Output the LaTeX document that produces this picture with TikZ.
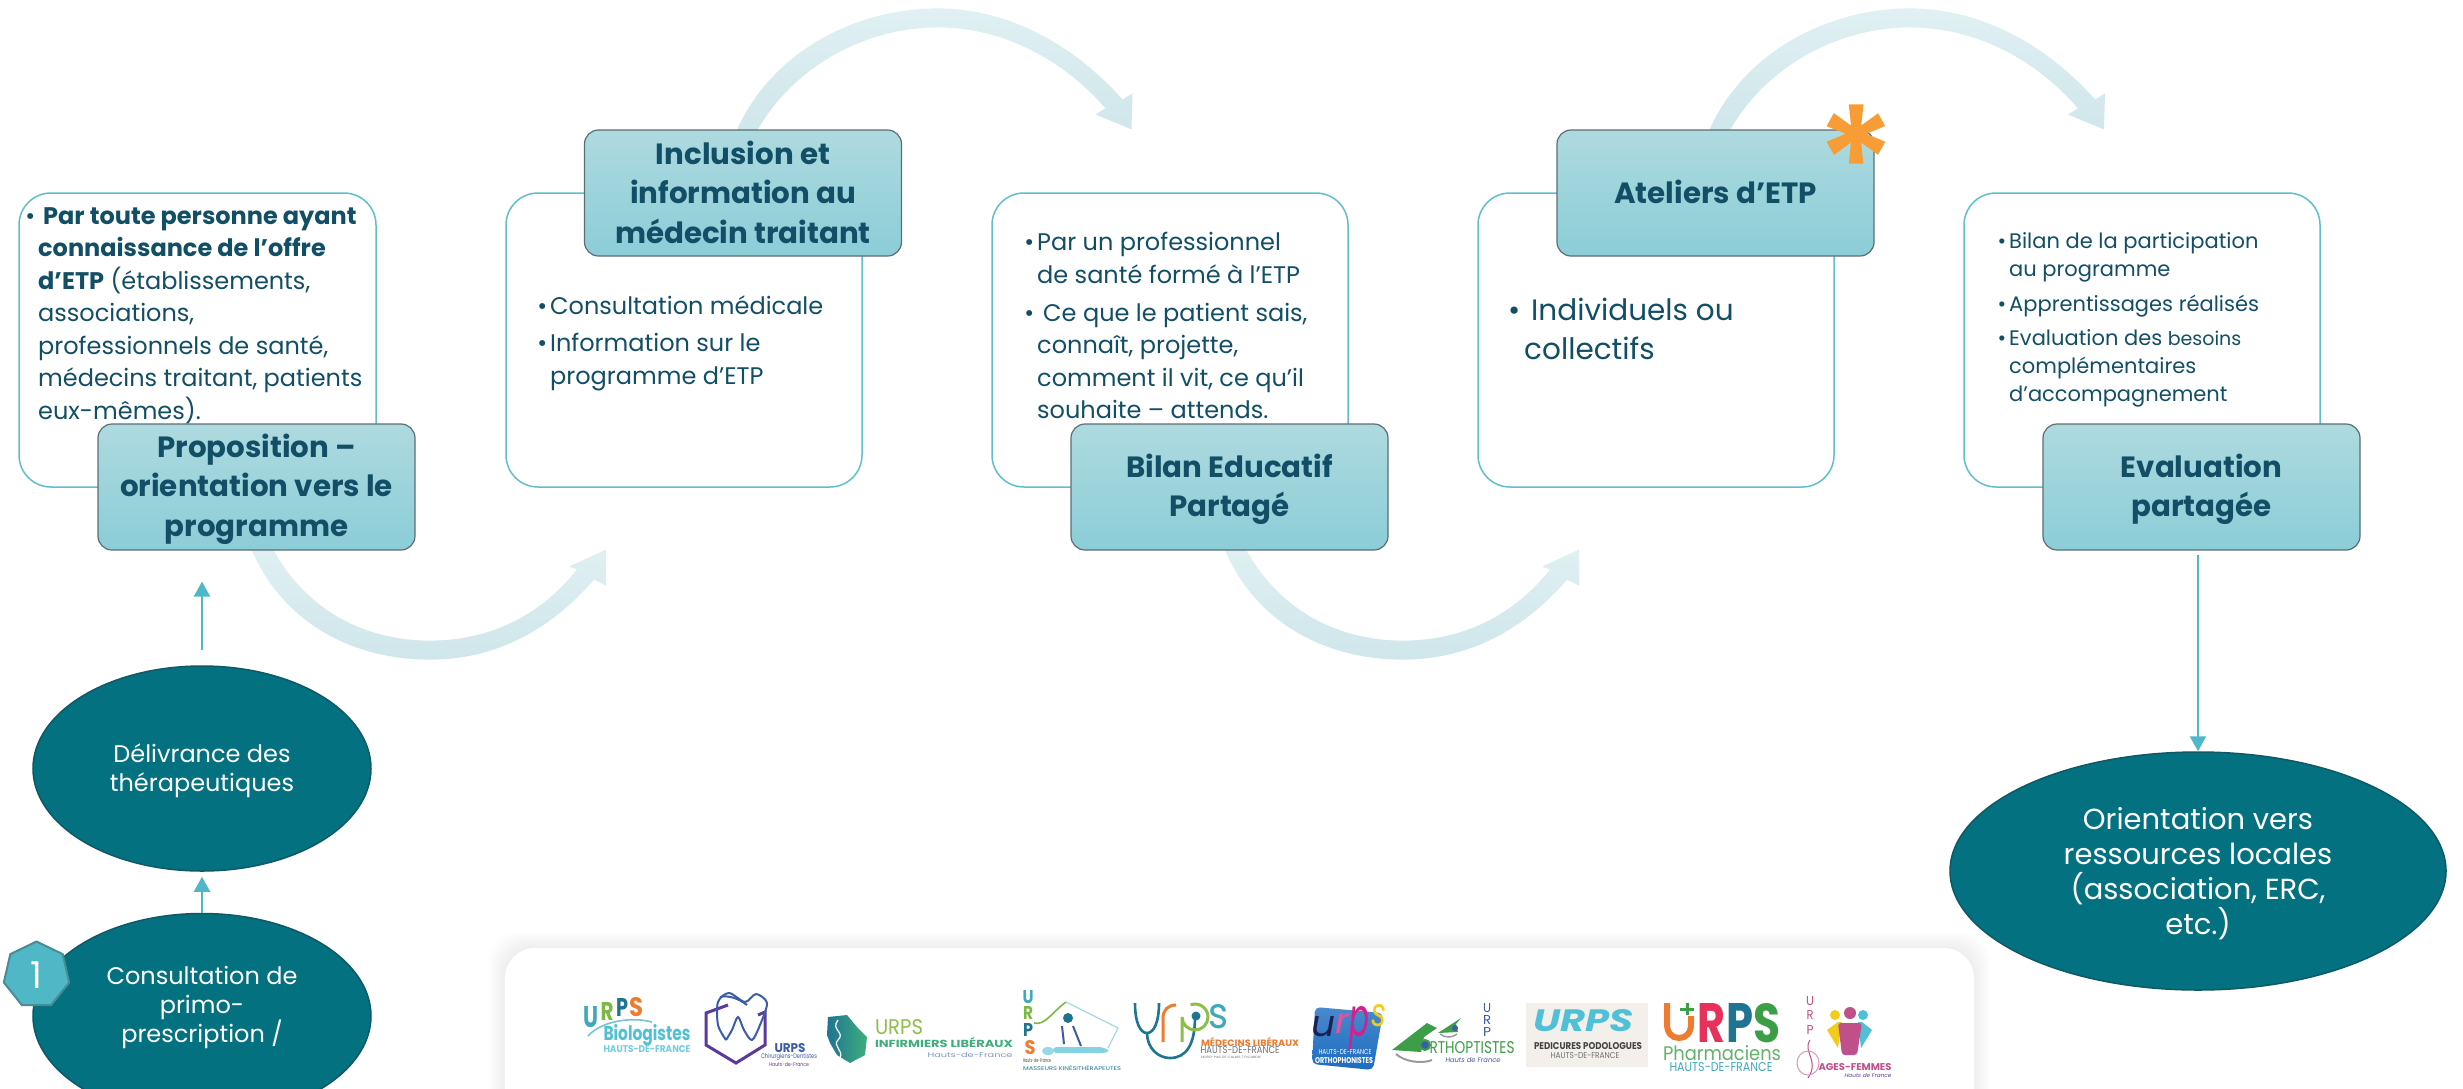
\documentclass[tikz,border=0pt]{standalone}
\usepackage{fontspec}
\usepackage{graphicx}
\setmainfont{Poppins}
\setsansfont{Poppins}
\usetikzlibrary{shapes.geometric,arrows.meta,backgrounds,calc}
\definecolor{txt}{HTML}{124F66}
\definecolor{hdtop}{HTML}{AEDADF}
\definecolor{hdbot}{HTML}{8BCDD8}
\definecolor{hdline}{HTML}{5A6E75}
\definecolor{boxline}{HTML}{5FBFCC}
\definecolor{ellfill}{HTML}{03717F}
\definecolor{ellline}{HTML}{0F5966}
\definecolor{conn}{HTML}{4FB8C8}
\definecolor{paletop}{HTML}{E0F0F3}
\definecolor{palebot}{HTML}{CFE6EA}
\definecolor{starcol}{HTML}{F89C36}
\definecolor{HexLine}{HTML}{4A8C96}
\definecolor{HexFill}{HTML}{4FB7C5}
\definecolor{lgTeal}{HTML}{3FA9BC}
\definecolor{lgGreen}{HTML}{7DB843}
\definecolor{lgBlue}{HTML}{1F7492}
\definecolor{lgOrange}{HTML}{EE7B30}
\definecolor{lgCyan}{HTML}{4FC0D6}
\definecolor{lgPurple}{HTML}{5B3A9B}
\definecolor{lgNavy}{HTML}{3B5CA8}
\definecolor{lgMint}{HTML}{3FAE7C}
\definecolor{lgLime}{HTML}{8FBE4A}
\definecolor{lgSlate}{HTML}{7F97C0}
\definecolor{lgDark}{HTML}{444444}
\definecolor{lgGrey}{HTML}{707070}
\definecolor{lgRoyal}{HTML}{1C6CC0}
\definecolor{lgInk}{HTML}{1E1E50}
\definecolor{lgPink}{HTML}{EE4E9A}
\definecolor{lgMag}{HTML}{D81E8C}
\definecolor{lgYel}{HTML}{F2CC1A}
\definecolor{lgLeaf}{HTML}{3C9E46}
\definecolor{lgCream}{HTML}{F3F0EC}
\definecolor{lgRed}{HTML}{E8315A}
\definecolor{lgRose}{HTML}{C0508A}
\newcommand\bul[1]{\llap{•\hspace{#1pt}}}
\newcommand\lgt[6]{\node[inner sep=0pt,text=#5] (#1) at (#2) {\resizebox{#3pt}{#4pt}{#6}};}
\newcommand\tall[1]{\rule{0pt}{#1pt}}
\newcommand\deep[1]{\rule[-#1pt]{0pt}{1pt}}
\tikzset{
  x=1pt,y=-1pt,
  cardbox/.style={draw=boxline,line width=1.5pt,fill=white,rounded corners=32pt},
  header/.style={draw=hdline,line width=1.2pt,rounded corners=14pt,top color=hdtop,bottom color=hdbot,
    minimum width=317pt,minimum height=126pt,inner sep=0pt,align=center,text=txt,
    font=\fontsize{29.3}{39.5}\selectfont\bfseries},
  body/.style={anchor=north west,inner sep=0pt,align=left,text=txt,execute at begin node=\strut},
  bodyA/.style={body,font=\fontsize{24}{32.5}\selectfont},
  bodyB/.style={body,font=\fontsize{29.5}{38.5}\selectfont},
  bodyC/.style={body,font=\fontsize{21}{28}\selectfont},
  oval/.style={shape=ellipse,draw=ellline,line width=1.5pt,fill=ellfill,inner sep=0pt,align=center,text=white},
  link/.style={draw=conn,line width=2.3pt,-{Triangle[length=15pt,width=16pt]}},
  lowarc/.pic={\path[shade,top color=paletop,bottom color=palebot]
    (-6.5,-5) .. controls (23.5,70) and (93.5,109) .. (173.5,109) .. controls (238.5,109) and (293.5,80) .. (337.5,29)
    -- (349.5,35) -- (349.5,-1) -- (312.5,16) -- (320.5,19)
    .. controls (283.5,65) and (233.5,90) .. (173.5,90) .. controls (108.5,90) and (48.5,60) .. (14.5,-5) -- cycle;},
  higharc/.pic={\path[shade,top color=paletop,bottom color=palebot]
    (-8,5) .. controls (25,-75) and (110,-121) .. (194.5,-121) .. controls (270,-121) and (335,-80) .. (379.5,-30)
    -- (389.5,-36) -- (388.5,0) -- (352.5,-15) -- (362.5,-21)
    .. controls (320,-70) and (260,-102) .. (194.5,-102) .. controls (125,-102) and (50,-65) .. (12,5) -- cycle;},
}
\begin{document}
\begin{tikzpicture}
\useasboundingbox (0,0) rectangle (2463,1088);
\clip (0,0) rectangle (2463,1088);
% cards
\draw[cardbox] (19,193) rectangle (376,487);
\draw[cardbox] (506,193) rectangle (862,487);
\draw[cardbox] (992,193) rectangle (1348,487);
\draw[cardbox] (1478,193) rectangle (1834,487);
\draw[cardbox] (1964,193) rectangle (2320,487);
% body text
\node[bodyA] (t1) at (38,207) {\bul{3}\hspace{5pt}\textbf{Par toute personne ayant}\\\textbf{connaissance de l’offre}\\\textbf{d’ETP} (établissements,\\associations,\\professionnels de santé,\\médecins traitant, patients\\eux-mêmes).};
\node[bodyA] (t2a) at (550,292) {\bul{3}Consultation médicale};
\node[bodyA] (t2b) at (550,333) {\bul{3}Information sur le\\programme d’ETP};
\node[bodyA] (t3a) at (1037,232) {\bul{3}Par un professionnel\\de santé formé à l’ETP};
\node[bodyA] (t3b) at (1037,303) {\bul{3}\hspace{6pt}Ce que le patient sais,\\connaît, projette,\\comment il vit, ce qu’il\\souhaite – attends.};
\node[bodyB] (t4) at (1524,298) {\bul{4}\hspace{7pt}Individuels ou\\collectifs};
\node[bodyC] (t5a) at (2009,232) {\bul{3}Bilan de la participation\\au programme};
\node[bodyC] (t5b) at (2009,292) {\bul{3}Apprentissages réalisés};
\node[bodyC] (t5c) at (2009,329) {\bul{3}Evaluation des {\fontsize{19}{28}\selectfont besoins}\\complémentaires\\d’accompagnement};
% headers
\node[header] (h1) at (256.5,487) {\tall{28}Proposition –\\orientation vers le\\programme};
\node[header] (h2) at (743,193) {Inclusion et\\information au\\médecin traitant\deep{2}};
\node[header] (h3) at (1229.5,487) {\tall{28}Bilan Educatif\\Partagé};
\node[header] (h4) at (1715.5,193) {Ateliers d’ETP\deep{2}};
\node[header] (h5) at (2201.5,487) {\tall{28}Evaluation\\partagée};
% ovals
\node[oval,minimum width=338pt,minimum height=205pt,font=\fontsize{24}{29}\selectfont] (e1) at (202,768.5) {\tall{24}Délivrance des\\thérapeutiques};
\node[oval,minimum width=338pt,minimum height=205pt,font=\fontsize{24}{29}\selectfont] (e2) at (202,1016) {Consultation de\\primo-\\prescription /\deep{24}};
\node[oval,minimum width=496pt,minimum height=238pt,font=\fontsize{29}{35}\selectfont] (e3) at (2198,871) {\tall{28}Orientation vers\\ressources locales\\(association, ERC,\\etc.)};
\node[regular polygon,regular polygon sides=7,minimum size=67pt,inner sep=0pt,draw=HexLine,line width=2pt,fill=HexFill,text=white,font=\fontsize{37}{37}\selectfont] (num) at (36.5,975) {1};
% connectors
\draw[link,shorten >=5pt] (e2.north) -- (e1.south);
\draw[link,shorten <=15pt,shorten >=31pt] (e1.north) -- (e1.north |- h1.south);
\draw[link,shorten <=4pt] (e3.north |- h5.south) -- (e3.north);
% star
\node[anchor=base,inner sep=0pt,text=starcol,font=\fontsize{150}{150}\selectfont\addfontfeature{FakeBold=2}] (star) at (1856,216) {*};
% big pale arrows
\begin{scope}[on background layer]
\fill[white] (0,0) rectangle (2463,1088);
\pic at (h1.south) {lowarc};
\pic at (h3.south) {lowarc};
\pic at (h2.north) {higharc};
\pic at (h4.north) {higharc};
\end{scope}
% logo panel
\foreach \i in {1,...,8} {\fill[black,opacity=.0075,rounded corners=30pt] ({505-\i*2},{948-\i*2}) rectangle ({1974+\i*2},1130);}
\fill[white,rounded corners=30pt] (505,948) rectangle (1974,1130);
% logo 1 biologistes
\draw[draw=lgTeal!70,line width=1.6pt] (588,1036) .. controls (600,1022) and (630,1016) .. (652,1022);
\lgt{a1}{591,1017}{15}{21}{lgTeal}{\bfseries U}
\lgt{a2}{607,1011}{13}{18}{lgGreen}{\bfseries R}
\lgt{a3}{622,1007}{12}{18}{lgBlue}{\bfseries P}
\lgt{a4}{636,1007}{14}{19}{lgOrange}{\bfseries S}
\lgt{a5}{647,1035}{87}{16}{lgCyan}{\bfseries Biologistes}
\lgt{a6}{647,1049}{87}{7}{lgCyan!80}{\bfseries HAUTS-DE-FRANCE}
% logo 2 dentists
\draw[draw=lgPurple,line width=3pt] (728,1005) -- (706,1013) -- (706,1045) -- (736,1063) -- (765,1045) -- (765,1012) -- (758,1015);
\draw[draw=lgNavy,line width=2pt] plot[smooth] coordinates {(726,1040) (718,1025) (718,1002) (729,993) (745,1002) (756,994) (767,1003) (760,1025) (752,1040) (744,1030) (738,1017) (732,1030) (726,1040)};
\draw[draw=lgNavy,line width=2pt] (720,997) .. controls (728,995) and (738,998) .. (747,1005);
\lgt{b1}{790,1048}{31}{9}{lgNavy}{\bfseries URPS}
\lgt{b2}{789,1057}{56}{5}{lgNavy}{Chirurgiens-Dentistes}
\lgt{b3}{789,1065}{40}{4}{lgPurple}{Hauts-de-France}
% logo 3 nurses
\path[shade,left color=lgBlue,right color=lgMint] (828,1017) -- (847,1015) -- (857,1027) -- (867,1037) -- (865,1055) -- (850,1063) -- (837,1055) -- (830,1043) -- (827,1035) -- cycle;
\draw[draw=white,line width=1.2pt] (838,1020) .. controls (830,1030) and (846,1032) .. (838,1040) .. controls (832,1046) and (844,1050) .. (840,1058);
\lgt{c1}{899,1027}{48}{15}{lgLime}{URPS}
\lgt{c2}{944,1043}{138}{10}{lgMint}{\bfseries INFIRMIERS LIBÉRAUX}
\lgt{c3}{970,1055}{85}{5}{lgSlate}{Hauts-de-France}
% logo 4 physio
\lgt{d1}{1028,997}{11}{13}{lgTeal}{\bfseries U}
\lgt{d2}{1028,1013}{10}{13}{lgGreen}{\bfseries R}
\lgt{d3}{1028,1030}{10}{13}{lgBlue}{\bfseries P}
\lgt{d4}{1030,1048}{11}{14}{lgOrange}{\bfseries S}
\draw[draw=lgGreen,line width=1.6pt] (1034,1023) .. controls (1045,1026) and (1052,1012) .. (1066,1002);
\draw[draw=lgTeal!45,line width=1.3pt] (1066,1002) -- (1118,1028) -- (1108,1048);
\fill[lgBlue] (1068,1018) circle (5);
\draw[draw=lgNavy,line width=2pt] (1062,1026) -- (1064,1044);
\draw[draw=lgNavy,line width=2pt] (1073,1026) -- (1081,1046);
\fill[lgCyan!70] (1056,1047) -- (1100,1047) .. controls (1110,1049) and (1112,1053) .. (1100,1053) -- (1056,1053) .. controls (1052,1051) and (1052,1049) .. (1056,1047) -- cycle;
\fill[lgCyan!60] (1048,1051) ellipse (6 and 4);
\lgt{d5}{1037,1061}{28}{4}{lgDark}{Hauts-de-France}
\lgt{d6}{1072,1068}{98}{5}{lgBlue}{MASSEURS KINÉSITHÉRAPEUTES}
% logo 5 doctors
\draw[draw=lgBlue,line width=2.6pt] (1135,1003) .. controls (1135,1022) and (1140,1033) .. (1147,1033) .. controls (1154,1033) and (1159,1022) .. (1159,1003);
\draw[draw=lgBlue,line width=2.6pt] (1147,1033) .. controls (1147,1048) and (1158,1058) .. (1170,1058) .. controls (1186,1058) and (1195,1045) .. (1195,1017);
\draw[draw=lgOrange,line width=3pt] (1163,1042) -- (1163,1018) .. controls (1163,1010) and (1168,1005) .. (1176,1005);
\draw[draw=lgLime,line width=3pt] (1182,1042) -- (1182,1017) arc[start angle=180,end angle=-110,radius=13];
\fill[lgBlue] (1196,1016) circle (4.5);
\lgt{f1}{1218,1017}{20}{24}{lgTeal}{s}
\lgt{f2}{1250,1042}{98}{9}{lgOrange}{\bfseries MÉDECINS LIBÉRAUX}
\lgt{f3}{1240,1050}{79}{7}{lgGrey}{HAUTS-DE-FRANCE}
\lgt{f4}{1231,1057}{60}{3}{lgGrey}{NORD-PAS DE CALAIS / PICARDIE}
% logo 6 speech
\path[shade,top color=lgRoyal!80,bottom color=lgRoyal,rounded corners=5pt] (1315,1007) -- (1383,1013) -- (1373,1070) -- (1312,1064) -- cycle;
\lgt{g1}{1323,1027}{24}{20}{lgInk}{\itshape u}
\lgt{g2}{1342,1023}{14}{20}{lgPink}{\itshape r}
\lgt{g3}{1359,1028}{20}{30}{lgMag}{\itshape p}
\lgt{g4}{1379,1016}{15}{22}{lgYel}{\itshape s}
\lgt{g5}{1345,1052}{53}{5}{white}{HAUTS-DE-FRANCE}
\lgt{g6}{1344,1061}{58}{6}{white}{\bfseries ORTHOPHONISTES}
% logo 7 orthoptists
\fill[lgLeaf] (1392,1050) -- (1427,1023) -- (1437,1028) -- (1424,1037) -- (1421,1052) -- cycle;
\draw[draw=lgGrey!70,line width=2pt] (1396,1054) .. controls (1405,1062) and (1422,1064) .. (1432,1060);
\draw[draw=lgLeaf,line width=2pt,fill=lgNavy] (1425,1045) circle (5);
\fill[lgLeaf] (1438,1033) -- (1461,1018) -- (1456,1024) -- (1458,1032) -- cycle;
\draw[draw=lgGrey!70,line width=1.5pt] (1440,1034) .. controls (1445,1038) and (1452,1038) .. (1457,1034);
\fill[lgNavy] (1455,1028) circle (3);
\lgt{k1}{1472,1048}{85}{12}{lgLeaf}{RTHOPTISTES}
\lgt{k2}{1487,1008}{8}{9}{lgNavy}{U}
\lgt{k3}{1487,1020}{8}{9}{lgNavy}{R}
\lgt{k4}{1487,1032}{8}{9}{lgNavy}{P}
\lgt{k5}{1473,1060}{55}{5}{lgNavy}{\itshape Hauts de France}
% logo 8 podiatrists
\fill[lgCream] (1526,1003) rectangle (1648,1067);
\lgt{m1}{1583,1021}{100}{22}{lgCyan}{\bfseries\itshape URPS}
\lgt{m2}{1588,1046}{108}{7}{lgDark}{\bfseries PEDICURES PODOLOGUES}
\lgt{m3}{1585,1056}{69}{6}{lgGrey}{HAUTS-DE-FRANCE}
% logo 9 pharmacists
\draw[draw=lgOrange,line width=6pt] (1667,1003) -- (1667,1024) .. controls (1667,1033) and (1672,1038) .. (1679,1038) .. controls (1686,1038) and (1691,1033) .. (1691,1024) -- (1691,1016);
\draw[draw=lgLeaf,line width=3pt] (1680,1009) -- (1694,1009) (1687,1003) -- (1687,1015);
\lgt{n1}{1711,1023}{28}{39}{lgRed}{\bfseries R}
\lgt{n2}{1740,1023}{27}{39}{lgBlue}{\bfseries P}
\lgt{n3}{1767,1023}{27}{39}{lgLeaf}{\bfseries S}
\lgt{n4}{1722,1053}{118}{15}{lgLeaf!80}{Pharmaciens}
\lgt{n5}{1721,1067}{103}{9}{lgTeal}{HAUTS-DE-FRANCE}
% logo 10 midwives
\lgt{p1}{1810,1001}{8}{9}{lgRose}{U}
\lgt{p2}{1810,1015}{7}{9}{lgRose}{R}
\lgt{p3}{1810,1030}{7}{9}{lgRose}{P}
\draw[draw=lgRose,line width=1pt] (1810,1040) .. controls (1802,1052) and (1820,1060) .. (1808,1078);
\draw[draw=lgRose!60,line width=1pt] (1808,1063) ellipse (11 and 12);
\fill[lgYel] (1835,1015) circle (5);
\fill[lgYel] (1827,1030) -- (1838,1022) -- (1842,1022) -- (1838,1048) -- cycle;
\fill[lgCyan] (1863,1015) circle (5);
\fill[lgCyan] (1872,1030) -- (1862,1022) -- (1858,1022) -- (1861,1048) -- cycle;
\fill[lgRose] (1850,1013) circle (6);
\fill[lgRose,rounded corners=3pt] (1838,1023) -- (1862,1023) -- (1857,1055) -- (1842,1055) -- cycle;
\lgt{p4}{1855,1067}{73}{7}{lgRose}{\bfseries AGES-FEMMES}
\lgt{p5}{1868,1076}{47}{4}{lgPurple}{\itshape Hauts de France}
\end{tikzpicture}
\end{document}
